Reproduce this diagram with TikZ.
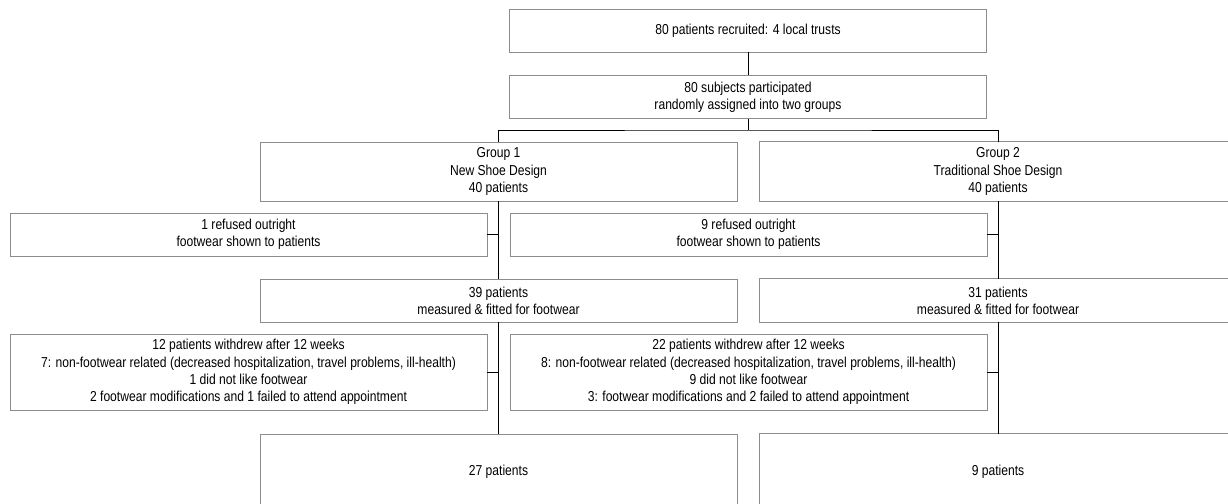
\documentclass[tikz,border=0pt]{standalone}
\usepackage{fontspec}
\setmainfont{Liberation Sans}[FakeStretch=0.84]

\begin{document}
\begin{tikzpicture}[
  x = 0.02cm, y = -0.02cm,
  every node/.style = {font=\fontsize{8.2}{9.8}\selectfont, align=center, inner sep=0pt},
  box/.style = {draw=black!45, line width=0.5pt, minimum width=9.54cm, minimum height=0.86cm},
  tallbox/.style = {box, minimum height=1.18cm},
  bigbox/.style = {box, minimum height=1.52cm},
  cutbox/.style = {draw=none},
  frame/.style = {draw=black!45, line width=0.5pt},
  link/.style = {draw, line width=0.55pt},
]
\useasboundingbox (0,0) rectangle (1228,504);
\clip (0,0) rectangle (1228,504);

\node[box]            (recruit) at (748.0,  30.5) {80 patients recruited: 4 local trusts};
\node[box]            (assign)  at (748.0,  97.0) {80 subjects participated\\randomly assigned into two groups};
\node[tallbox]        (grpA)    at (498.5, 171.5) {Group 1\\New Shoe Design\\40 patients};
\node[tallbox,cutbox] (grpB)    at (998.0, 171.5) {Group 2\\Traditional Shoe Design\\40 patients};
\node[box]            (refA)    at (248.5, 234.5) {1 refused outright\\footwear shown to patients};
\node[box]            (refB)    at (748.5, 234.5) {9 refused outright\\footwear shown to patients};
\node[box]            (fitA)    at (498.5, 300.5) {39 patients\\measured \& fitted for footwear};
\node[box,cutbox]     (fitB)    at (998.0, 300.5) {31 patients\\measured \& fitted for footwear};
\node[bigbox]         (wdA)     at (248.5, 372.0) {12 patients withdrew after 12 weeks\\
  7: non-footwear related (decreased hospitalization, travel problems, ill-health)\\
  1 did not like footwear\\2 footwear modifications and 1 failed to attend appointment};
\node[bigbox]         (wdB)     at (748.5, 372.0) {22 patients withdrew after 12 weeks\\
  8: non-footwear related (decreased hospitalization, travel problems, ill-health)\\
  9 did not like footwear\\3: footwear modifications and 2 failed to attend appointment};
\node[bigbox]         (endA)    at (498.5, 472.0) {27 patients};
\node[bigbox,cutbox]  (endB)    at (998.0, 472.0) {9 patients};

% right column runs off the page
\foreach \n in {grpB, fitB, endB}
  \draw[frame] (\n.north west) rectangle ([xshift=2cm]\n.south east);

\coordinate (split) at (748, 130);

\draw[link] (recruit) -- (assign);
\draw[link] (assign) -- (split);
\draw[link] (grpA.north) |- (split) -| (grpB.north);

\foreach \p/\c in {grpA/fitA, grpB/fitB, fitA/endA, fitB/endB}
  \draw[link] (\p.south) -- (\c.north);

\foreach \s/\t in {refA/grpA, wdA/fitA, refB/grpB, wdB/fitB}
  \draw[link] (\s.east) -- (\s.east -| \t.south);

\end{tikzpicture}
\end{document}
